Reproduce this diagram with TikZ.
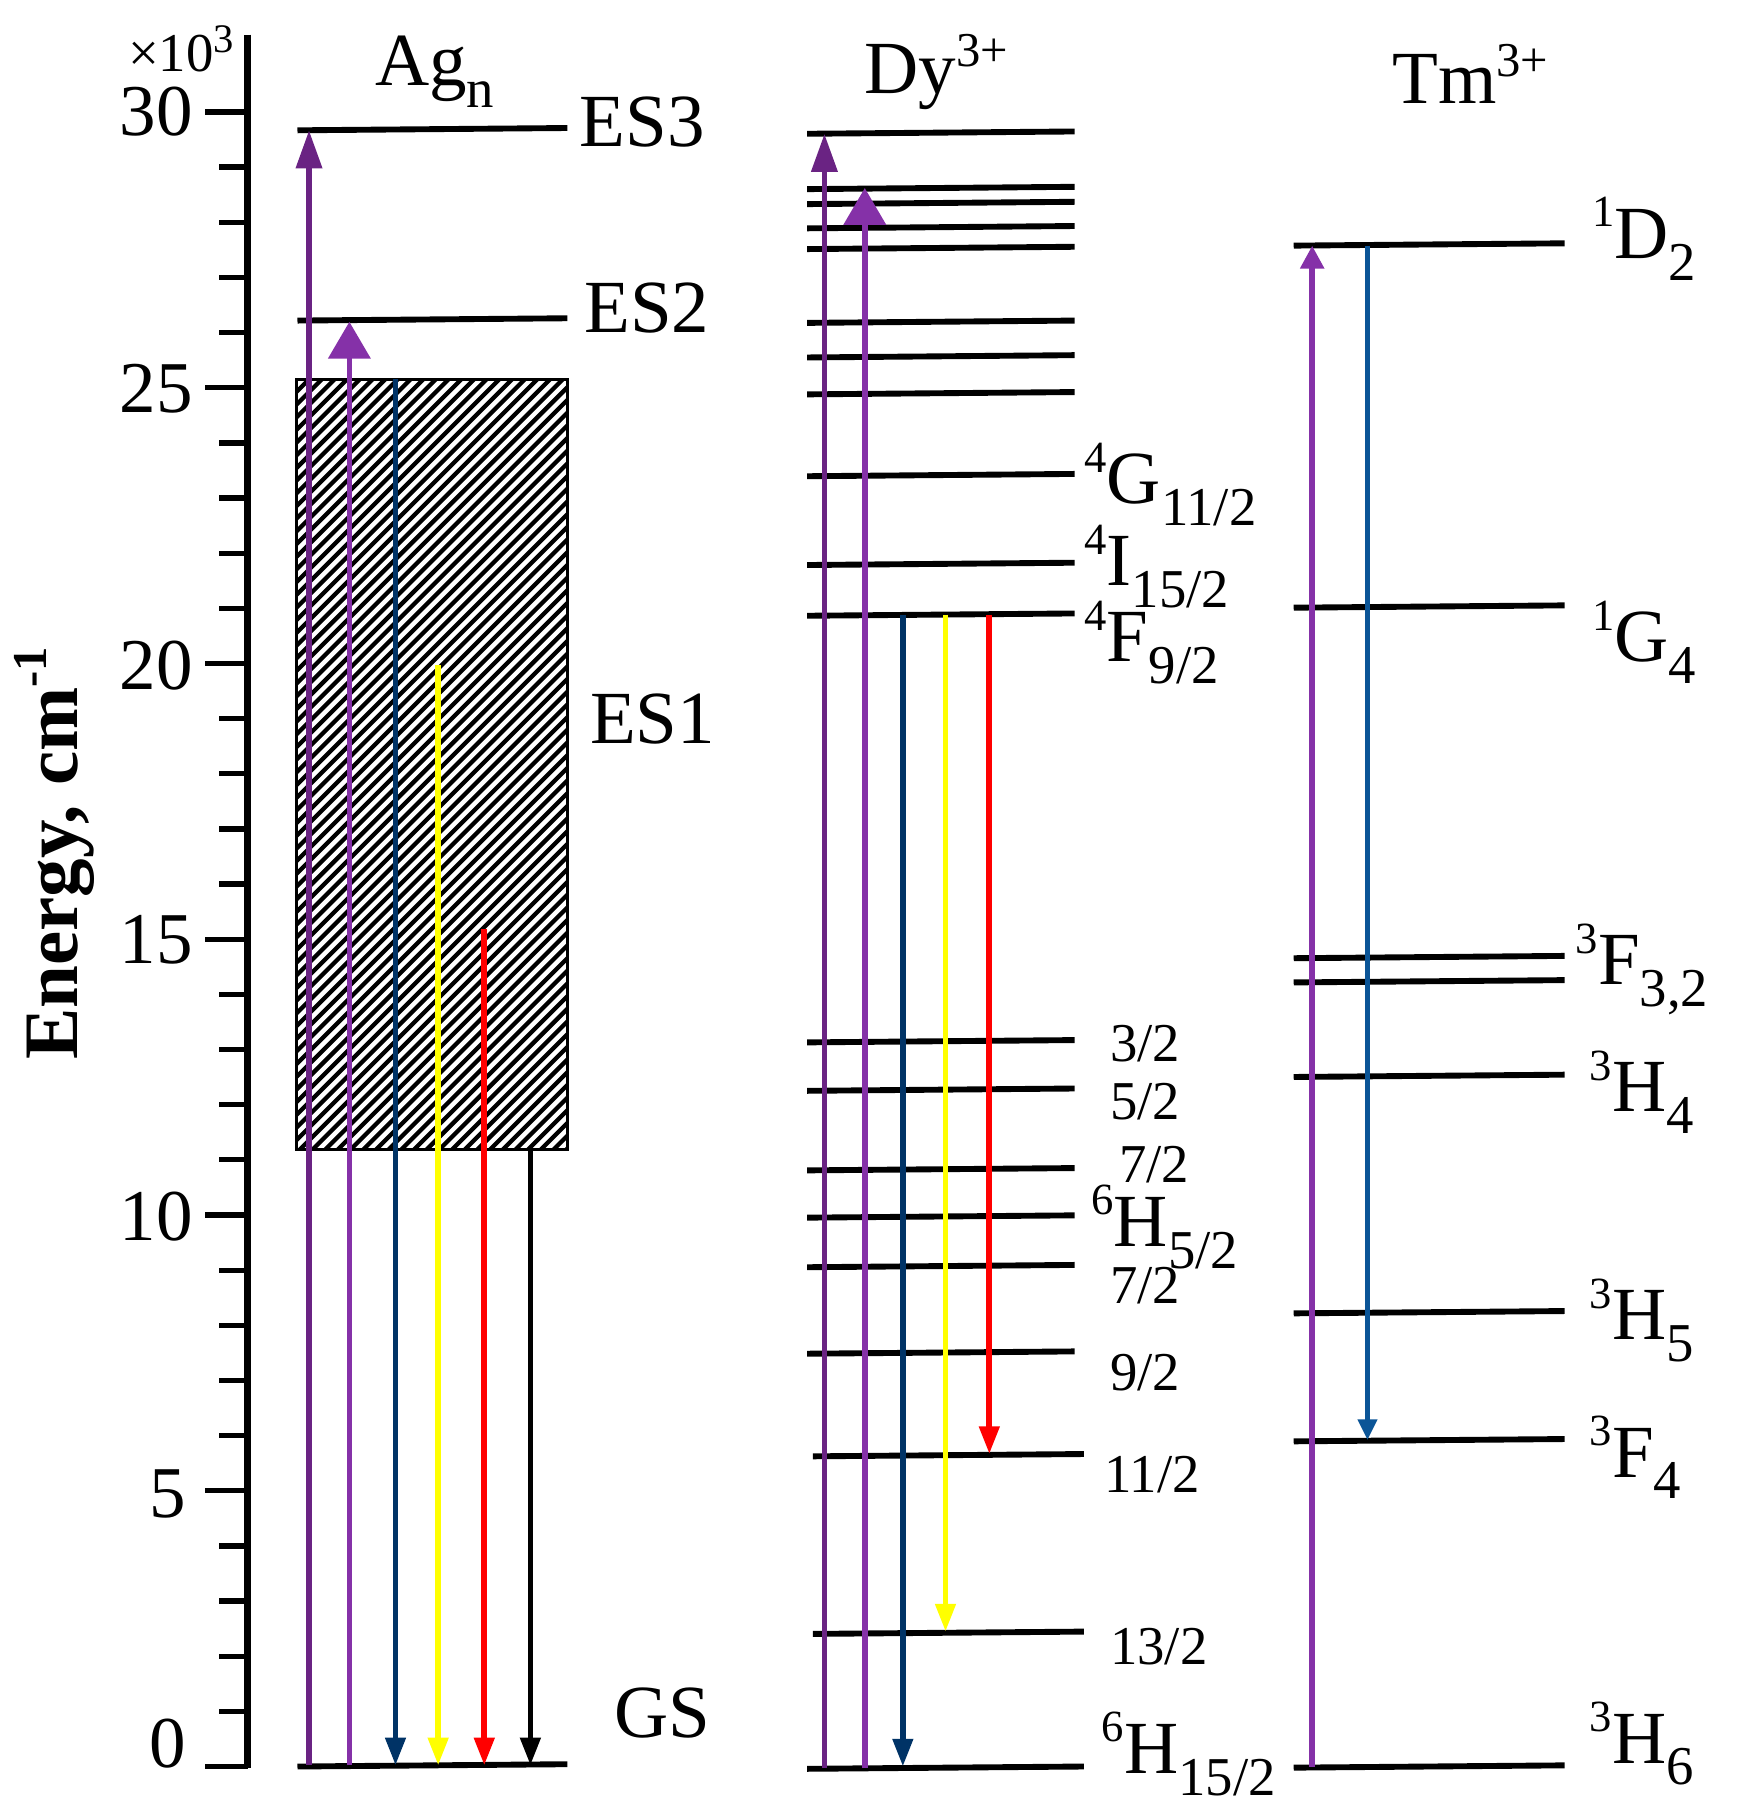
\documentclass[tikz,border=0pt]{standalone}
\usepackage{fontspec}
\setmainfont{Liberation Serif}
\usetikzlibrary{arrows.meta}
\definecolor{dpurple}{HTML}{6A2383}
\definecolor{lpurple}{HTML}{8531A8}
\definecolor{navyc}{HTML}{003366}
\definecolor{tmblue}{HTML}{0B5597}
\definecolor{yelc}{HTML}{FFFF00}
\definecolor{redc}{HTML}{FF0000}
\newcommand\lsup[1]{\raisebox{0.42em}{\fontsize{11}{11}\selectfont #1}}
\newcommand\lsub[1]{\raisebox{-0.29em}{\fontsize{13.5}{14}\selectfont #1}}
\newcommand\tsup[1]{\raisebox{0.36em}{\fontsize{12}{12}\selectfont #1}}
\begin{document}
\begin{tikzpicture}[x=0.01cm,y=-0.01cm,
  level/.style={line width=1.45pt},
  axisline/.style={line width=1.7pt},
  tickline/.style={line width=1.3pt},
  lab/.style={font=\fontsize{18.5}{19}\selectfont, inner sep=0pt},
  ticklab/.style={font=\fontsize{18}{18}\selectfont, inner sep=0pt, anchor=east},
  frac/.style={font=\fontsize{13.5}{14}\selectfont, inner sep=0pt, anchor=west},
  tr/.style={line width=1.4pt},
  tipdown/.style={-{Triangle[width=0.17cm,length=0.24cm]}},
  tipupS/.style={-{Triangle[width=0.22cm,length=0.33cm]}},
  tipupL/.style={-{Triangle[width=0.36cm,length=0.32cm]}},
  hatch/.style={line width=1.05pt}
]
\useasboundingbox (0,0) rectangle (1507,1568);

% ---- axis ----
\draw[axisline] (215,30) -- (215,1533);
\foreach \e in {0,...,30} {
  \pgfmathsetmacro\yy{1532-47.83*\e}
  \draw[tickline] (190,\yy) -- (215,\yy);
}
\foreach \e in {0,5,...,30} {
  \pgfmathsetmacro\yy{1532-47.83*\e}
  \draw[tickline] (178,\yy) -- (215,\yy);
}
\node[ticklab] (t30) at (168,97) {30};
\node[ticklab] (t25) at (168,337) {25};
\node[ticklab] (t20) at (168,577) {20};
\node[ticklab] (t15) at (168,815) {15};
\node[ticklab] (t10) at (168,1055) {10};
\node[ticklab] (t5) at (162,1296) {5};
\node[ticklab] (t0) at (162,1512) {0};
\node[font=\fontsize{13.5}{14}\selectfont, inner sep=0pt] (mult) at (157,42) {×10\raisebox{0.35em}{\fontsize{10}{10}\selectfont 3}};
\node[rotate=90, font=\bfseries\fontsize{19}{19}\selectfont, inner sep=0pt] (elab) at (47,740) {Energy, cm\raisebox{0.4em}{\fontsize{12}{12}\selectfont -1}};

% ---- Ag_n ----
\node[lab] (agt) at (377,62) {Ag\lsub{n}};
\draw[level] (258,113) -- (492,111);
\draw[level] (258,278) -- (492,276);
\draw[level] (258,1532) -- (492,1530);
\begin{scope}
  \clip (257,329) rectangle (492,997);
  \foreach \c in {586,597,...,1500} {
    \draw[hatch] (\c-997,997) -- (\c-329,329);
  }
\end{scope}
\draw[line width=0.7pt] (257,329) rectangle (492,997);
\node[lab, anchor=base west] (es3) at (502,127) {ES3};
\node[lab, anchor=base west] (es2) at (506,288) {ES2};
\node[lab, anchor=base west] (es1) at (511,645) {ES1};
\node[lab, anchor=base west] (gs) at (532,1507) {GS};

\coordinate (a1s) at (268,1531); \coordinate (a1e) at (268,113);
\coordinate (a2s) at (303,1531); \coordinate (a2e) at (303,279);
\coordinate (a3s) at (343,329);  \coordinate (a3e) at (343,1531);
\coordinate (a4s) at (380,577);  \coordinate (a4e) at (380,1531);
\coordinate (a5s) at (420,806);  \coordinate (a5e) at (420,1531);
\coordinate (a6s) at (460,997);  \coordinate (a6e) at (460,1531);
\draw[tr, dpurple, tipupS] (a1s) -- (a1e);
\draw[tr, lpurple, tipupL] (a2s) -- (a2e);
\draw[tr, navyc, tipdown] (a3s) -- (a3e);
\draw[tr, yelc, tipdown] (a4s) -- (a4e);
\draw[tr, redc, tipdown] (a5s) -- (a5e);
\draw[tr, black, tipdown] (a6s) -- (a6e);

% ---- Dy3+ ----
\node[lab] (dyt) at (812,62) {Dy\tsup{3+}};
\foreach \y in {115,163,176,197,215,279,309,341,412,489,533,903,945,1014,1055,1098,1173} {
  \draw[level] (700,\y+1) -- (932,\y-1);
}
\draw[level] (705,1263) -- (940,1261);
\draw[level] (705,1417) -- (940,1415);
\draw[level] (700,1534) -- (940,1532);

\node[lab, anchor=base west] (g112) at (940,437) {\lsup{4}G\lsub{11/2}};
\node[lab, anchor=base west] (i152) at (940,508) {\lsup{4}I\lsub{15/2}};
\node[lab, anchor=base west] (f92) at (940,574) {\lsup{4}F\lsub{9/2}};
\node[frac] (f32) at (962,905) {3/2};
\node[frac] (f52) at (962,955) {5/2};
\node[frac] (f72a) at (970,1010) {7/2};
\node[lab, anchor=base west] (h52) at (946,1081) {\lsup{6}H\lsub{5/2}};
\node[frac] (f72b) at (962,1115) {7/2};
\node[frac] (f92b) at (962,1190) {9/2};
\node[frac] (f112) at (957,1279) {11/2};
\node[frac] (f132) at (962,1428) {13/2};
\node[lab, anchor=base west] (h152) at (955,1538) {\lsup{6}H\lsub{15/2}};

\coordinate (d1s) at (715,1533); \coordinate (d1e) at (715,116);
\coordinate (d2s) at (750,1533); \coordinate (d2e) at (750,163);
\coordinate (d3s) at (783,533);  \coordinate (d3e) at (783,1532);
\coordinate (d4s) at (820,533);  \coordinate (d4e) at (820,1415);
\coordinate (d5s) at (858,533);  \coordinate (d5e) at (858,1261);
\draw[tr, dpurple, tipupS] (d1s) -- (d1e);
\draw[tr, lpurple, tipupL] (d2s) -- (d2e);
\draw[tr, navyc, tipdown] (d3s) -- (d3e);
\draw[tr, yelc, tipdown] (d4s) -- (d4e);
\draw[tr, redc, tipdown] (d5s) -- (d5e);

% ---- Tm3+ ----
\node[lab] (tmt) at (1275,64) {Tm\tsup{3+}};
\foreach \y in {212,526,830,851,933,1138,1249,1532} {
  \draw[level] (1122,\y+1) -- (1357,\y-1);
}
\node[lab, anchor=base west] (d2) at (1380,224) {\lsup{1}D\lsub{2}};
\node[lab, anchor=base west] (g4) at (1380,574) {\lsup{1}G\lsub{4}};
\node[lab, anchor=base west] (f32t) at (1366,854) {\lsup{3}F\lsub{3,2}};
\node[lab, anchor=base west] (h4) at (1378,964) {\lsup{3}H\lsub{4}};
\node[lab, anchor=base west] (h5) at (1378,1162) {\lsup{3}H\lsub{5}};
\node[lab, anchor=base west] (f4) at (1378,1281) {\lsup{3}F\lsub{4}};
\node[lab, anchor=base west] (h6) at (1378,1529) {\lsup{3}H\lsub{6}};

\coordinate (m1s) at (1138,1532); \coordinate (m1e) at (1138,213);
\coordinate (m2s) at (1186,213);  \coordinate (m2e) at (1186,1249);
\draw[tr, lpurple, -{Triangle[width=0.2cm,length=0.2cm]}] (m1s) -- (m1e);
\draw[tr, tmblue, -{Triangle[width=0.16cm,length=0.18cm]}] (m2s) -- (m2e);
\end{tikzpicture}
\end{document}
